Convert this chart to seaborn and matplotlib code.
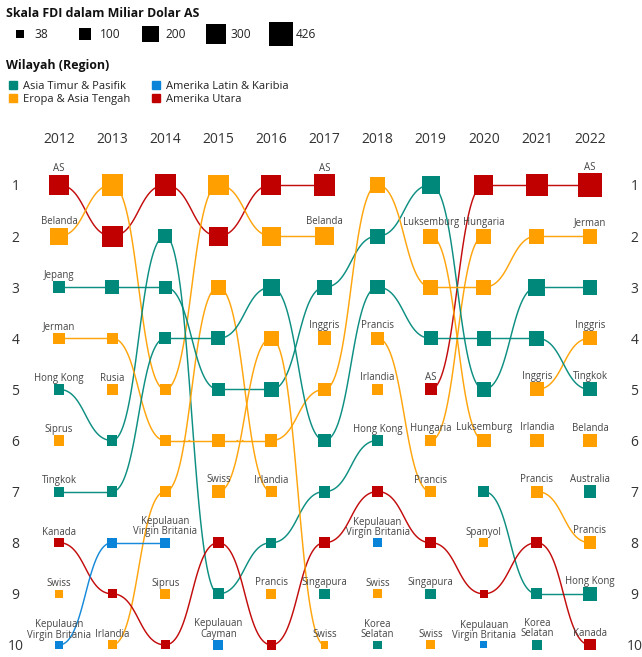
import numpy as np
import pandas as pd
import matplotlib
matplotlib.use("Agg")
import matplotlib.pyplot as plt
import seaborn as sns
from matplotlib.lines import Line2D

YEARS = list(range(2012, 2023))

# top-10 per year, rank 1 first
RANKING = {
    2012: ["AS", "Belanda", "Jepang", "Jerman", "Hong Kong", "Siprus", "Tingkok", "Kanada", "Swiss", "Kepulauan Virgin Britania"],
    2013: ["Belanda", "AS", "Jepang", "Jerman", "Rusia", "Hong Kong", "Tingkok", "Kepulauan Virgin Britania", "Kanada", "Irlandia"],
    2014: ["AS", "Hong Kong", "Jepang", "Tingkok", "Belanda", "Jerman", "Irlandia", "Kepulauan Virgin Britania", "Siprus", "Kanada"],
    2015: ["Belanda", "AS", "Irlandia", "Tingkok", "Jepang", "Jerman", "Swiss", "Kanada", "Hong Kong", "Kepulauan Cayman"],
    2016: ["AS", "Belanda", "Tingkok", "Swiss", "Jepang", "Jerman", "Irlandia", "Hong Kong", "Prancis", "Kanada"],
    2017: ["AS", "Belanda", "Jepang", "Inggris", "Jerman", "Tingkok", "Hong Kong", "Kanada", "Singapura", "Swiss"],
    2018: ["Jerman", "Jepang", "Tingkok", "Prancis", "Irlandia", "Hong Kong", "Kanada", "Kepulauan Virgin Britania", "Swiss", "Korea Selatan"],
    2019: ["Jepang", "Luksemburg", "Jerman", "Tingkok", "AS", "Hungaria", "Prancis", "Kanada", "Singapura", "Swiss"],
    2020: ["AS", "Hungaria", "Jerman", "Tingkok", "Jepang", "Luksemburg", "Hong Kong", "Spanyol", "Kanada", "Kepulauan Virgin Britania"],
    2021: ["AS", "Jerman", "Jepang", "Tingkok", "Inggris", "Irlandia", "Prancis", "Kanada", "Hong Kong", "Korea Selatan"],
    2022: ["AS", "Jerman", "Jepang", "Inggris", "Tingkok", "Belanda", "Australia", "Prancis", "Hong Kong", "Kanada"],
}

FDI = {
    2012: [320, 215, 112, 90, 88, 74, 72, 60, 47, 45],
    2013: [330, 320, 145, 90, 88, 85, 83, 74, 60, 58],
    2014: [330, 135, 130, 110, 95, 92, 86, 74, 70, 60],
    2015: [320, 270, 165, 145, 130, 125, 125, 88, 85, 72],
    2016: [300, 265, 215, 165, 150, 110, 90, 75, 72, 70],
    2017: [330, 240, 165, 140, 120, 118, 106, 85, 74, 47],
    2018: [175, 170, 150, 125, 92, 85, 82, 55, 55, 52],
    2019: [240, 165, 160, 145, 106, 95, 92, 90, 80, 62],
    2020: [270, 165, 160, 155, 150, 140, 92, 62, 47, 38],
    2021: [360, 165, 210, 165, 145, 140, 106, 90, 88, 74],
    2022: [426, 166, 165, 145, 143, 125, 123, 120, 140, 90],
}

# ranks that carry a country name
LABELLED = {
    2012: list(range(1, 11)),
    2013: [5, 10],
    2014: [8, 9],
    2015: [7, 10],
    2016: [7, 9],
    2017: [1, 2, 4, 9, 10],
    2018: [4, 5, 6, 8, 9, 10],
    2019: [2, 5, 6, 7, 9, 10],
    2020: [2, 6, 8, 10],
    2021: [5, 6, 7, 10],
    2022: [1, 2, 4, 5, 6, 7, 8, 9, 10],
}

# year in which a country is not joined to the year before
UNLINKED = [("Swiss", 2018), ("Swiss", 2019)]

REGIONS = ["Asia Timur & Pasifik", "Eropa & Asia Tengah", "Amerika Latin & Karibia", "Amerika Utara"]
COLORS = ["#00897b", "#ffa000", "#0a84d8", "#c00000"]
ASIA = ["Jepang", "Hong Kong", "Tingkok", "Singapura", "Korea Selatan", "Australia"]
LATAM = ["Kepulauan Virgin Britania", "Kepulauan Cayman"]
NAMERICA = ["AS", "Kanada"]

SIZE_LEGEND = [38, 100, 200, 300, 426]

DISPLAY = {
    "Kepulauan Virgin Britania": "Kepulauan\nVirgin Britania",
    "Kepulauan Cayman": "Kepulauan\nCayman",
    "Korea Selatan": "Korea\nSelatan",
}


def region_of(name):
    if name in ASIA:
        return REGIONS[0]
    if name in LATAM:
        return REGIONS[2]
    if name in NAMERICA:
        return REGIONS[3]
    return REGIONS[1]


rows = []
for year in YEARS:
    for i, name in enumerate(RANKING[year]):
        rows.append({
            "year": year, "rank": i + 1, "country": name,
            "region": region_of(name), "fdi": FDI[year][i],
            "show": (i + 1) in LABELLED[year],
        })
df = pd.DataFrame(rows)
palette = dict(zip(REGIONS, COLORS))

sns.set_style("white")
plt.rcParams["font.family"] = ["Open Sans", "DejaVu Sans"]

DPI = 100
W, H = 642, 657
SMAX = (24 * 72 / DPI) ** 2   # 426 -> 24 px square
fig = plt.figure(figsize=(W / DPI, H / DPI), dpi=DPI)


def px_rect(x0, y0, x1, y1):
    return [x0 / W, 1 - y1 / H, (x1 - x0) / W, (y1 - y0) / H]


# main bump chart
AX_L, AX_T, AX_R, AX_B = 35, 160, 615, 657
X0, XSTEP, Y0, YSTEP = 59, 53.1, 185, 51.1
ax = fig.add_axes(px_rect(AX_L, AX_T, AX_R, AX_B))
ax.set_xlim(2012 - (X0 - AX_L) / XSTEP, 2022 + (AX_R - X0 - 10 * XSTEP) / XSTEP)
ax.set_ylim(10 + (AX_B - Y0 - 9 * YSTEP) / YSTEP, 1 - (Y0 - AX_T) / YSTEP)

t = np.linspace(0, 1, 80)
for country, g in df.groupby("country"):
    g = g.sort_values("year")
    prev = None
    for _, r in g.iterrows():
        if prev is not None and r.year == prev.year + 1 and (country, r.year) not in UNLINKED:
            xm = (prev.year + r.year) / 2
            bx = (1 - t) ** 3 * prev.year + 3 * (1 - t) ** 2 * t * xm + 3 * (1 - t) * t ** 2 * xm + t ** 3 * r.year
            by = ((1 - t) ** 3 + 3 * (1 - t) ** 2 * t) * prev["rank"] + (3 * (1 - t) * t ** 2 + t ** 3) * r["rank"]
            ax.plot(bx, by, color=palette[r.region], lw=1.05, alpha=0.95, zorder=2,
                    solid_capstyle="butt")
        prev = r

sns.scatterplot(
    data=df, x="year", y="rank", hue="region", palette=palette,
    size="fdi", sizes=(0, SMAX), size_norm=(0, 426), marker="s",
    linewidth=0, legend=False, ax=ax, zorder=3, clip_on=False,
)

for _, r in df[df["show"]].iterrows():
    half = np.sqrt(SMAX * r.fdi / 426) / 2
    ax.annotate(DISPLAY.get(r.country, r.country), (r.year, r["rank"]),
                xytext=(0, half + 0.3), textcoords="offset points",
                ha="center", va="bottom", fontsize=6.9, color="#444444",
                linespacing=0.9, zorder=4)

ax.set_xticks(YEARS)
ax.set_xticklabels([str(y) for y in YEARS])
ax.set_yticks(range(1, 11))
ax.set_yticklabels([str(i) for i in range(1, 11)])
ax.xaxis.tick_top()
ax.tick_params(axis="both", length=0)
ax.tick_params(axis="x", top=False, bottom=False, labeltop=True, labelbottom=False,
               pad=9.5, labelsize=10, labelcolor="#333333")
ax.tick_params(axis="y", left=False, right=False, labelleft=True, labelright=True,
               pad=14, labelsize=10, labelcolor="#333333")
for tk in ax.yaxis.get_major_ticks():
    tk.label1.set_ha("center")
    tk.label2.set_ha("center")
for s in ax.spines.values():
    s.set_visible(False)
ax.set_xlabel("")
ax.set_ylabel("")

# size legend
fig.text(6 / W, 1 - 17 / H, "Skala FDI dalam Miliar Dolar AS", fontsize=8.9,
         fontweight="bold", va="baseline", color="#111111")
lax = fig.add_axes(px_rect(0, 24, 320, 44))
lax.axis("off")
LSTEP = 65.25
sns.scatterplot(x=list(range(len(SIZE_LEGEND))), y=[0] * len(SIZE_LEGEND),
                size=SIZE_LEGEND, sizes=(0, SMAX), size_norm=(0, 426), marker="s",
                color="black", linewidth=0, legend=False, ax=lax, clip_on=False)
lax.set_xlim(-20 / LSTEP, 300 / LSTEP)
lax.set_ylim(-1, 1)
for i, v in enumerate(SIZE_LEGEND):
    lax.annotate(str(v), (i, 0), xytext=(10.5, 0), textcoords="offset points",
                 ha="left", va="center", fontsize=8.6, color="#222222")

# region legend
fig.text(6 / W, 1 - 69.5 / H, "Wilayah (Region)", fontsize=8.9,
         fontweight="bold", va="baseline", color="#111111")
handles = [Line2D([], [], marker="s", ls="", color=c, markersize=5.8) for c in COLORS]
fig.legend(handles, REGIONS, ncol=2, loc="upper left", bbox_to_anchor=(6 / W, 1 - 81 / H),
           frameon=False, borderpad=0, borderaxespad=0, handlelength=1.26,
           handletextpad=0.27, labelspacing=0.19, columnspacing=1.68, fontsize=8,
           labelcolor="#222222")

fig.savefig("out.png", dpi=DPI)
